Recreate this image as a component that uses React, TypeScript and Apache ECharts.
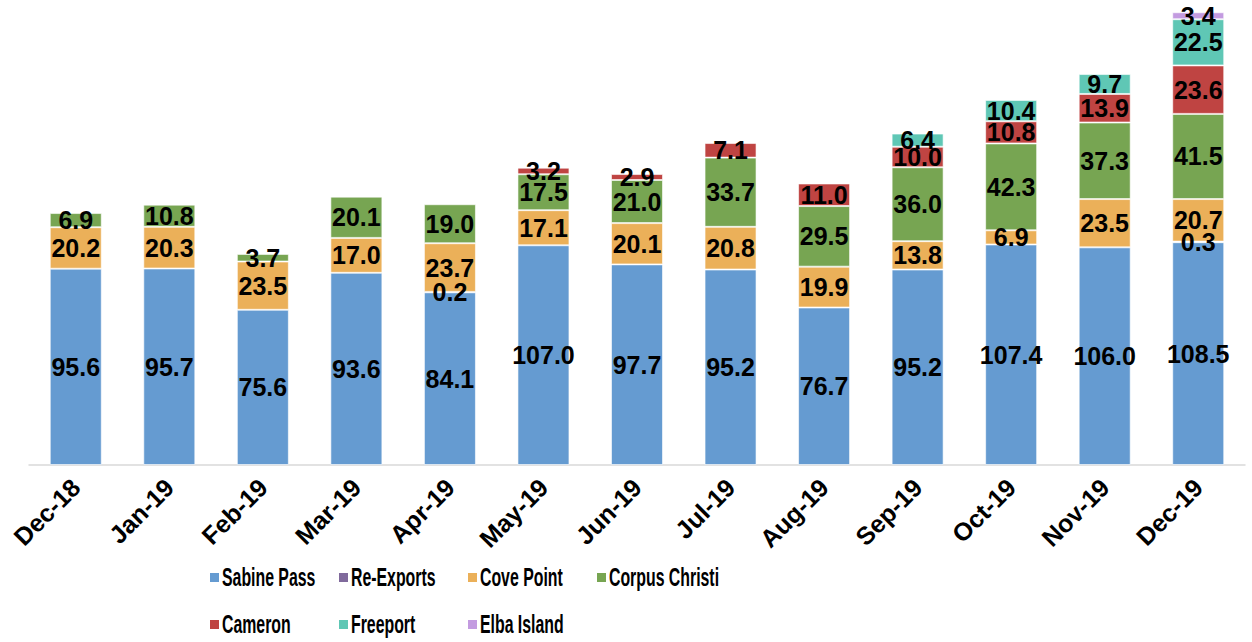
import React, { useEffect, useRef } from "react";
import * as echarts from "echarts";

const categories = ["Dec-18", "Jan-19", "Feb-19", "Mar-19", "Apr-19", "May-19", "Jun-19", "Jul-19", "Aug-19", "Sep-19", "Oct-19", "Nov-19", "Dec-19"];
const sabinePass = [95.6, 95.7, 75.6, 93.6, 84.1, 107.0, 97.7, 95.2, 76.7, 95.2, 107.4, 106.0, 108.5];
const reExports = [null, null, null, null, 0.2, null, null, null, null, null, null, null, 0.3];
const covePoint = [20.2, 20.3, 23.5, 17.0, 23.7, 17.1, 20.1, 20.8, 19.9, 13.8, 6.9, 23.5, 20.7];
const corpusChristi = [6.9, 10.8, 3.7, 20.1, 19.0, 17.5, 21.0, 33.7, 29.5, 36.0, 42.3, 37.3, 41.5];
const cameron = [null, null, null, null, null, 3.2, 2.9, 7.1, 11.0, 10.0, 10.8, 13.9, 23.6];
const freeport = [null, null, null, null, null, null, null, null, null, 6.4, 10.4, 9.7, 22.5];
const elbaIsland = [null, null, null, null, null, null, null, null, null, null, null, null, 3.4];

const seriesNames = ["Sabine Pass", "Re-Exports", "Cove Point", "Corpus Christi", "Cameron", "Freeport", "Elba Island"];
const seriesData = [sabinePass, reExports, covePoint, corpusChristi, cameron, freeport, elbaIsland];
const seriesColors = ["#659BD1", "#806A9C", "#EBB059", "#77A552", "#BF4442", "#5FC7B5", "#C39BE0"];

const FONT = "'Liberation Sans', Arial, sans-serif";

export default function App() {
  const ref = useRef<HTMLDivElement>(null);
  useEffect(() => {
    if (!ref.current) return;
    const chart = echarts.init(ref.current, null, { renderer: "svg" });

    // Legend drawn as a grid of 4 columns (condensed bold text like the reference)
    const legendItems = seriesNames.map((name, i) => {
      const col = i % 4;
      const row = Math.floor(i / 4);
      const x = 210 + col * 129;
      const y = 578 + row * 47;
      return {
        type: "group",
        children: [
          { type: "rect", shape: { x, y: y - 5, width: 9, height: 9 }, style: { fill: seriesColors[i] } },
          {
            type: "text",
            x: x + 12,
            y,
            scaleX: 0.61,
            style: {
              text: name,
              fill: "#000",
              fontFamily: FONT,
              fontSize: 26,
              fontWeight: "bold",
              verticalAlign: "middle",
              align: "left",
            },
          },
        ],
      };
    });

    chart.setOption({
      animation: false,
      grid: { left: 29, right: 7, top: 3, bottom: 177 },
      legend: { show: false, data: seriesNames },
      graphic: legendItems,
      xAxis: {
        type: "category",
        data: categories,
        axisTick: { show: false },
        axisLine: { lineStyle: { color: "#D9D9D9", width: 1.5 } },
        axisLabel: {
          rotate: 45,
          margin: 18,
          interval: 0,
          fontFamily: FONT,
          fontSize: 25,
          fontWeight: "bold",
          color: "#000",
        },
      },
      yAxis: { type: "value", min: 0, max: 225, show: false, splitLine: { show: false } },
      series: seriesNames.map((name, i) => ({
        name,
        type: "bar",
        stack: "total",
        barWidth: 52,
        data: seriesData[i],
        itemStyle: { color: seriesColors[i], borderColor: "rgba(255,255,255,0.6)", borderWidth: 1 },
        label: {
          show: true,
          position: "inside",
          fontFamily: FONT,
          fontSize: 25,
          fontWeight: "bold",
          color: "#000",
          formatter: (p: any) => (p.value == null ? "" : Number(p.value).toFixed(1)),
        },
      })),
    });
    return () => chart.dispose();
  }, []);
  return <div ref={ref} style={{ position: "absolute", left: 0, top: 0, width: 1252, height: 642 }} />;
}
